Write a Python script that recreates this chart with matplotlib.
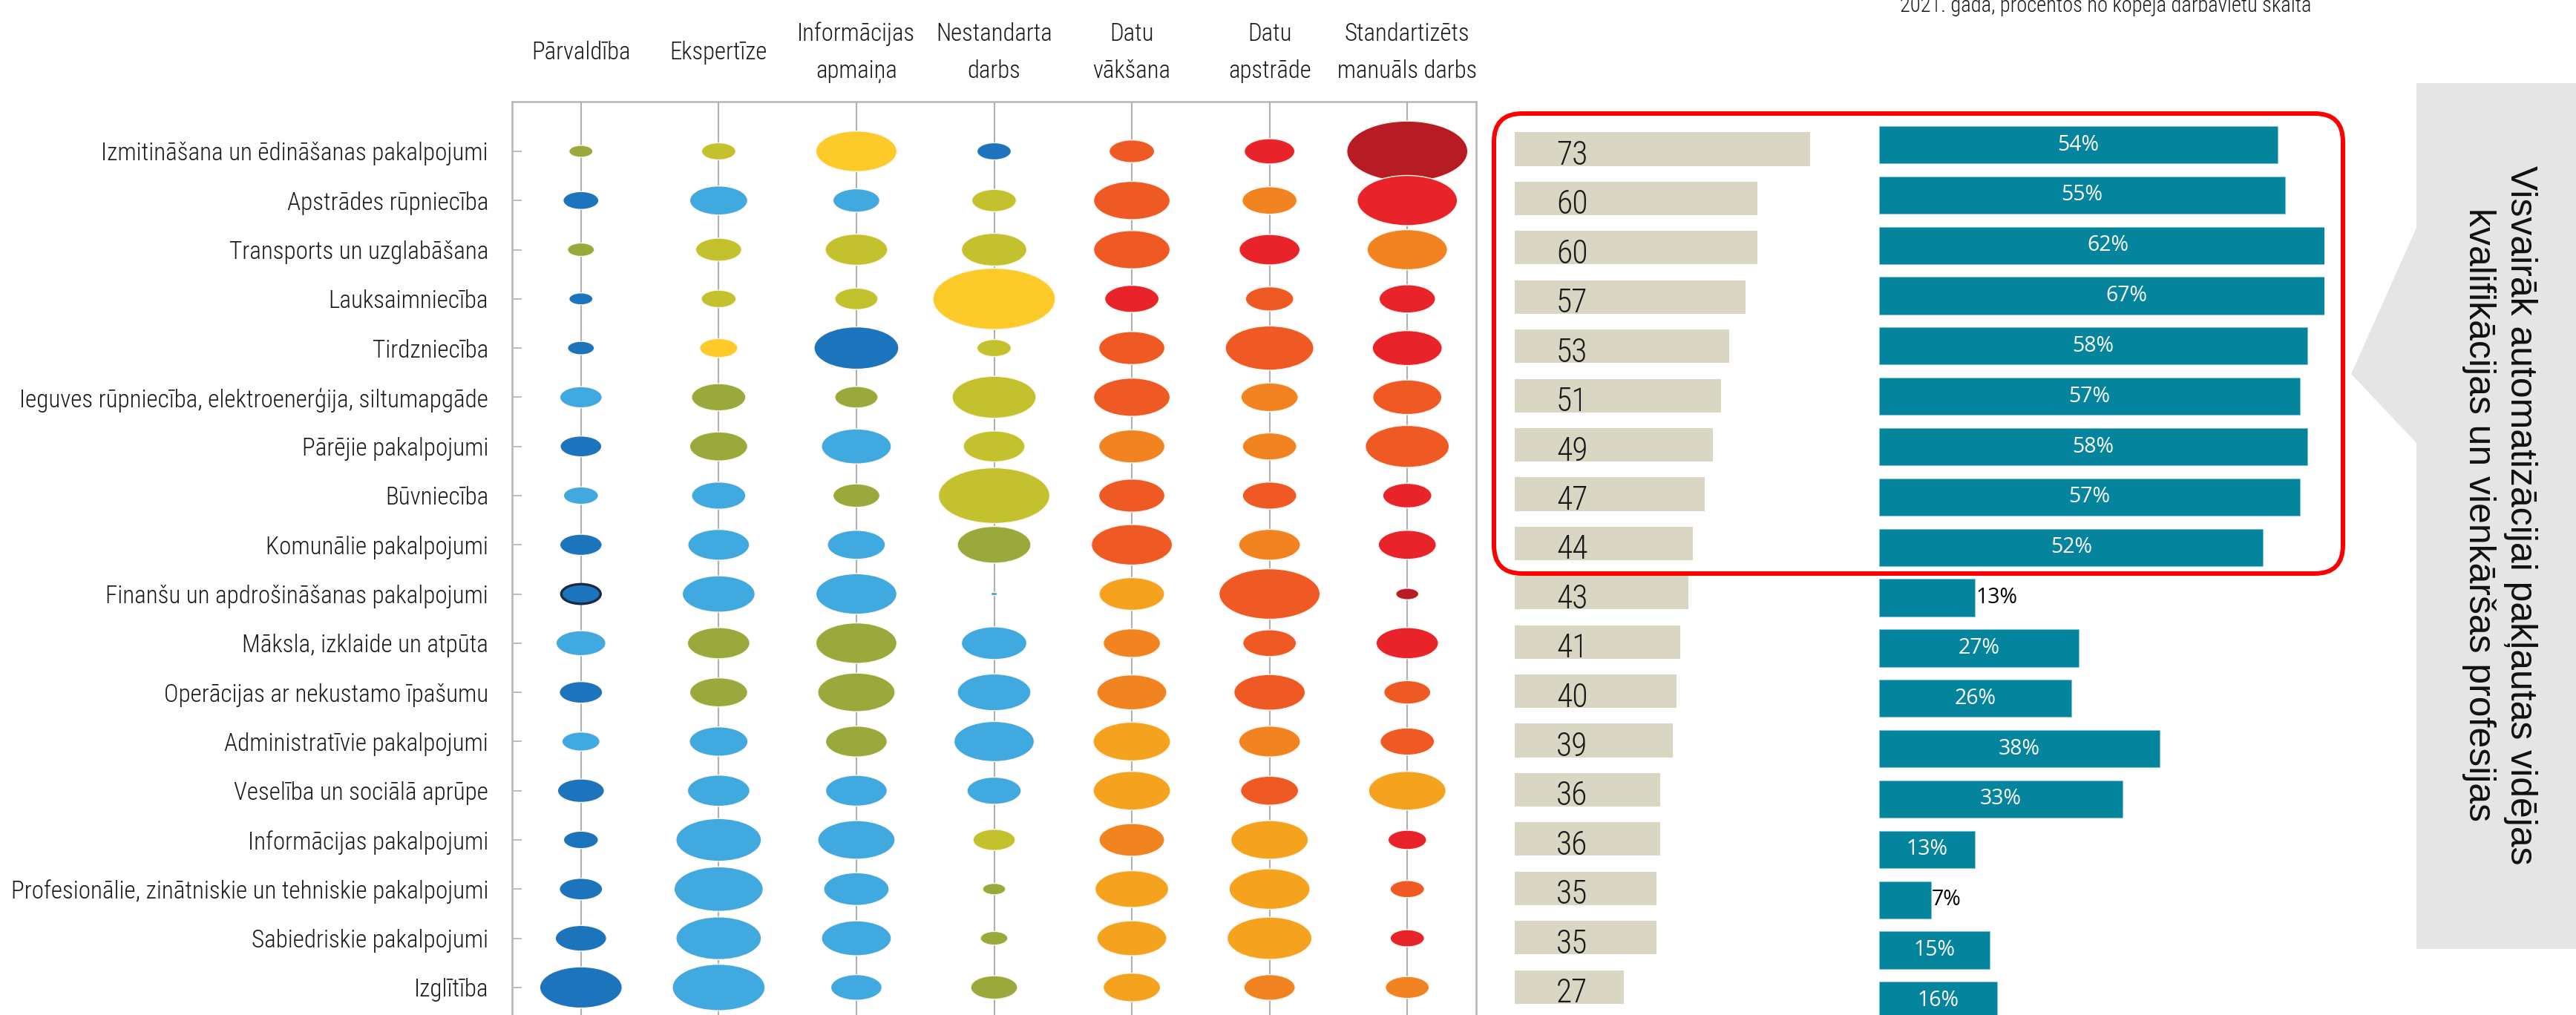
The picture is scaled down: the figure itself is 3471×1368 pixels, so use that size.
import os
import numpy as np
import matplotlib
matplotlib.use("Agg")
import matplotlib.pyplot as plt
import matplotlib.font_manager as fm
from matplotlib.textpath import TextPath
from matplotlib.patches import FancyBboxPatch, Polygon
from matplotlib.path import Path
from matplotlib.transforms import Affine2D

# ---------------- DATA ----------------
categories = [
    "Izmitināšana un ēdināšanas pakalpojumi",
    "Apstrādes rūpniecība",
    "Transports un uzglabāšana",
    "Lauksaimniecība",
    "Tirdzniecība",
    "Ieguves rūpniecība, elektroenerģija, siltumapgāde",
    "Pārējie pakalpojumi",
    "Būvniecība",
    "Komunālie pakalpojumi",
    "Finanšu un apdrošināšanas pakalpojumi",
    "Māksla, izklaide un atpūta",
    "Operācijas ar nekustamo īpašumu",
    "Administratīvie pakalpojumi",
    "Veselība un sociālā aprūpe",
    "Informācijas pakalpojumi",
    "Profesionālie, zinātniskie un tehniskie pakalpojumi",
    "Sabiedriskie pakalpojumi",
    "Izglītība",
]

tasks = ["Pārvaldība", "Ekspertīze", "Informācijas\napmaiņa", "Nestandarta\ndarbs",
         "Datu\nvākšana", "Datu\napstrāde", "Standartizēts\nmanuāls darbs"]

# bubble values (relative size index, area-proportional) per task column
parvaldiba = [3.8, 8.5, 4.8, 3.8, 4.8, 11.9, 11.5, 8.1, 11.9, 10.3, 16.5, 12.4, 9.6, 14.6, 8.1, 12.4, 17.5, 45.3]
ekspertize = [7.8, 22.4, 14.1, 8.1, 9.6, 19.6, 22.4, 19.6, 25.3, 35.3, 25.9, 22.4, 22.9, 25.9, 48.6, 52.9, 48.6, 57.4]
info_apmaina = [43.7, 14.6, 25.9, 12.4, 47.8, 12.4, 32.5, 14.6, 22.4, 43.7, 43.7, 39.8, 25.3, 25.3, 39.8, 28.5, 32.5, 17.5]
nestandarta = [7.8, 13.2, 28.5, 100.0, 7.8, 46.9, 25.3, 82.7, 36.0, 0.3, 28.5, 36.0, 42.9, 19.6, 11.9, 3.5, 5.0, 14.6]
datu_vaksana = [13.7, 39.0, 39.0, 19.6, 29.1, 39.0, 29.1, 29.1, 43.7, 28.5, 21.8, 32.5, 39.8, 39.8, 28.5, 36.0, 32.5, 21.8]
datu_apstrade = [17.0, 20.1, 24.7, 15.5, 52.1, 21.8, 19.6, 19.6, 25.3, 68.0, 19.1, 33.9, 25.3, 22.4, 39.8, 43.7, 47.8, 17.5]
standartizets = [97.7, 67.0, 42.9, 21.2, 32.5, 31.8, 46.9, 16.0, 22.4, 3.5, 25.9, 14.6, 19.6, 39.8, 9.9, 7.8, 7.8, 12.8]

# colour class of each bubble (per task column)
cls_parvaldiba = ['OG', 'DB', 'OG', 'DB', 'DB', 'LB', 'DB', 'LB', 'DB', 'DB', 'LB', 'DB', 'LB', 'DB', 'DB', 'DB', 'DB', 'DB']
cls_ekspertize = ['YG', 'LB', 'YG', 'YG', 'YE', 'OG', 'OG', 'LB', 'LB', 'LB', 'OG', 'OG', 'LB', 'LB', 'LB', 'LB', 'LB', 'LB']
cls_info = ['YE', 'LB', 'YG', 'YG', 'DB', 'OG', 'LB', 'OG', 'LB', 'LB', 'OG', 'OG', 'OG', 'LB', 'LB', 'LB', 'LB', 'LB']
cls_nestandarta = ['DB', 'YG', 'YG', 'YE', 'YG', 'YG', 'YG', 'YG', 'OG', 'LB', 'LB', 'LB', 'LB', 'LB', 'YG', 'OG', 'OG', 'OG']
cls_vaksana = ['RO', 'RO', 'RO', 'RE', 'RO', 'RO', 'OR', 'RO', 'RO', 'AM', 'OR', 'OR', 'AM', 'AM', 'OR', 'AM', 'AM', 'AM']
cls_apstrade = ['RE', 'OR', 'RE', 'RO', 'RO', 'OR', 'OR', 'RO', 'OR', 'RO', 'RO', 'RO', 'OR', 'RO', 'AM', 'AM', 'AM', 'OR']
cls_standart = ['DR', 'RE', 'OR', 'RE', 'RE', 'RO', 'RO', 'RE', 'RE', 'DR', 'RE', 'RO', 'RO', 'AM', 'RE', 'RO', 'RE', 'OR']

# automation exposure index and share of jobs (%)
beige_values = [73, 60, 60, 57, 53, 51, 49, 47, 44, 43, 41, 40, 39, 36, 36, 35, 35, 27]
teal_values = [54, 55, 62, 67, 58, 57, 58, 57, 52, 13, 27, 26, 38, 33, 13, 7, 15, 16]

subtitle = "2021. gadā, procentos no kopējā darbavietu skaita"
callout = "Visvairāk automatizācijai pakļautas vidējas\nkvalifikācijas un vienkāršas profesijas"

# ---------------- STYLE ----------------
palette = {
    'DB': '#1c75bc', 'LB': '#3fa9e0', 'OG': '#9aa93b', 'YG': '#c3c22e',
    'YE': '#fccb2a', 'AM': '#f5a31f', 'OR': '#f18321', 'RO': '#ef5a24',
    'RE': '#e8232a', 'DR': '#b71c24',
}
BEIGE = '#d9d7c4'
TEAL = '#05849e'
GRID = '#b0b0b0'
TXT = '#1a1a1a'

W, H, DPI = 3471, 1368, 100
PX = 72.0 / DPI


def find_narrow():
    cands = [dict(family='Liberation Sans Narrow'),
             dict(family='Noto Sans Condensed'),
             dict(family='Roboto Condensed'),
             dict(family='Open Sans Condensed'),
             dict(family='DejaVu Sans Condensed'),
             dict(family='Noto Sans', stretch='condensed'),
             dict(family='Roboto', stretch='condensed'),
             dict(family='Open Sans', stretch='condensed'),
             dict(family='DejaVu Sans', stretch='condensed')]
    for c in cands:
        try:
            path = fm.findfont(fm.FontProperties(**c), fallback_to_default=False)
        except Exception:
            continue
        base = os.path.basename(path).lower()
        if 'narrow' in base or 'cond' in base:
            return fm.FontProperties(**c)
    return fm.FontProperties(family='DejaVu Sans')


def pick_file(prefs):
    files = sorted({f.fname for f in fm.fontManager.ttflist})
    low = [(os.path.basename(f).lower(), f) for f in files]
    for p in prefs:
        for b, f in low:
            if b.startswith(p):
                return fm.FontProperties(fname=f)
    return None


def find_font(names):
    for nm in names:
        try:
            fm.findfont(fm.FontProperties(family=nm), fallback_to_default=False)
            return fm.FontProperties(family=nm)
        except Exception:
            continue
    return fm.FontProperties(family='DejaVu Sans')


fp_narrow = pick_file(['notosans-extracondensedlight.', 'notosans-extracondensed.',
                       'notosans-extracondensedregular', 'robotocondensed-light.',
                       'notosans-condensedlight.', 'robotocondensed-regular.',
                       'liberationsansnarrow-regular.', 'notosans-condensed.',
                       'notosans-condensedregular', 'opensanscondensed-light',
                       'opensans-condensedlight', 'dejavusanscondensed.']) or find_narrow()
fp_box_base = find_font(['Liberation Sans', 'Open Sans', 'DejaVu Sans'])
fp_pct_base = find_font(['Open Sans', 'Noto Sans', 'Liberation Sans', 'DejaVu Sans'])


def extents_px(s, fp, size):
    tp = TextPath((0, 0), s, size=size, prop=fp)
    e = tp.get_extents()
    return e.width / PX, e.height / PX


def fit(s, fp, target_w, cap_h=None):
    w, _ = extents_px(s, fp, 10.0)
    size = 10.0 * target_w / w
    if cap_h is not None:
        _, hh = extents_px("H", fp, 10.0)
        size = min(size, 10.0 * cap_h / hh)
    return size


def sized(fp, size):
    f = fp.copy()
    f.set_size(size)
    return f


lab_size = min(fit(categories[15], fp_narrow, 640, 36), fit(categories[5], fp_narrow, 630, 36))
hdr_size = fit("manuāls darbs", fp_narrow, 184, 35)
num_size = fit("73", fp_narrow, 38, 36)
pct_size = fit("54%", fp_pct_base, 53, 21)
sub_size = fit(subtitle, fp_narrow, 553, 30)
box_size = fit(callout.split("\n")[0], fp_box_base, 941)

fp_lab = sized(fp_narrow, lab_size)
fp_hdr = sized(fp_narrow, hdr_size)
fp_num = sized(fp_narrow, num_size)
fp_pct = sized(fp_pct_base, pct_size)
fp_sub = sized(fp_narrow, sub_size)
fp_box = sized(fp_box_base, box_size)

fig = plt.figure(figsize=(W / DPI, H / DPI), dpi=DPI)
fig.patch.set_facecolor('white')


def fax(left, top, right, bottom):
    return [left / W, 1 - bottom / H, (right - left) / W, (bottom - top) / H]


n = len(categories)
rows = np.arange(n)

# ---------------- bubble panel ----------------
ax1 = fig.add_axes(fax(690, 137, 1989, 1368))
ax1.set_xlim(-0.5, len(tasks) - 0.5)
ax1.set_ylim(n - 1 + 0.56, -1.01)
ax1.set_xticks(range(len(tasks)))
ax1.set_xticklabels([])
ax1.tick_params(axis='x', length=0)
ax1.grid(axis='x', color=GRID, lw=1.5)
ax1.set_axisbelow(True)
for side in ['left', 'right', 'top']:
    ax1.spines[side].set_color('#b5b5b5')
    ax1.spines[side].set_linewidth(1.8)
ax1.spines['bottom'].set_visible(False)
ax1.set_yticks(rows)
ax1.set_yticklabels(categories, fontproperties=fp_lab, color=TXT)
ax1.tick_params(axis='y', direction='in', length=9, width=1.2, color='#b0b0b0', pad=32 * PX)

# bubbles in the source are horizontally stretched ellipses (width : height = 2 : 1)
ELLIPSE = Path.unit_circle().transformed(Affine2D().scale(1.0, 0.5))
SIZE_SCALE = 141.0
columns = [parvaldiba, ekspertize, info_apmaina, nestandarta, datu_vaksana, datu_apstrade, standartizets]
col_classes = [cls_parvaldiba, cls_ekspertize, cls_info, cls_nestandarta, cls_vaksana, cls_apstrade, cls_standart]
for j, (vals, cls) in enumerate(zip(columns, col_classes)):
    cols = [palette[c] for c in cls]
    edges = ['#fff6ee'] * n
    lws = [1.0] * n
    if j == 0:
        edges[9] = '#1b2a40'
        lws[9] = 2.4
    ax1.scatter(np.full(n, j), rows, s=np.array(vals) * SIZE_SCALE, c=cols, marker=ELLIPSE,
                edgecolors=edges, linewidths=lws, zorder=3)

for j, t in enumerate(tasks):
    ax1.annotate(t, xy=(j, 1), xycoords=('data', 'axes fraction'),
                 xytext=(0, 66 * PX), textcoords='offset points',
                 ha='center', va='center', multialignment='center',
                 fontproperties=fp_hdr, color=TXT, linespacing=1.7)

# ---------------- beige bars ----------------
BEIGE_PX = 5.45
ax2 = fig.add_axes(fax(2041, 137, 2600, 1368))
ax2.set_xlim(0, (2600 - 2041) / BEIGE_PX)
ax2.set_ylim(n - 1 + 0.57, -0.964)
ax2.barh(rows, beige_values, height=0.68, color=BEIGE)
ax2.axis('off')
for i, v in enumerate(beige_values):
    ax2.annotate(str(v), xy=(0, i), xytext=(56 * PX, -21 * PX), textcoords='offset points',
                 ha='left', va='baseline', fontproperties=fp_num, color=TXT)

# ---------------- teal bars ----------------
ax3 = fig.add_axes(fax(2532, 137, 3132, 1368))
ax3.set_xlim(0, 60.3)
ax3.set_ylim(n - 1 + 0.29, -0.855)
ax3.barh(rows, teal_values, height=0.74, color=TEAL, edgecolor='#7fc3d2', linewidth=0.6)
ax3.axis('off')
outside = {9, 15}
for i, v in enumerate(teal_values):
    if i in outside:
        ax3.annotate(f"{v}%", xy=(v, i), xytext=(1 * PX, 0), textcoords='offset points',
                     ha='left', va='center', fontproperties=fp_pct, color='black')
    else:
        ax3.text(v / 2, i, f"{v}%", ha='center', va='center', fontproperties=fp_pct, color='white')

# ---------------- overlay (annotations) ----------------
ax0 = fig.add_axes([0, 0, 1, 1], zorder=10)
ax0.set_xlim(0, W)
ax0.set_ylim(H, 0)
ax0.axis('off')
ax0.patch.set_alpha(0)

ax0.add_patch(FancyBboxPatch((2013, 153), 1144, 620,
                             boxstyle='round,pad=0,rounding_size=38',
                             fill=False, ec='#ff0000', lw=6 * PX))
ax0.add_patch(Polygon([(3256, 112), (W, 112), (W, 1279), (3256, 1279), (3256, 597),
                       (3168, 504), (3256, 307)], closed=True, fc='#e5e5e5', ec='none'))
ax0.text(3368, 694, callout, rotation=-90, ha='center', va='center', multialignment='center',
         fontproperties=fp_box, color='#111111', linespacing=1.3)
ax0.text(2837, 16, subtitle, ha='center', va='baseline', fontproperties=fp_sub, color=TXT)

fig.savefig('out.png', dpi=DPI)
